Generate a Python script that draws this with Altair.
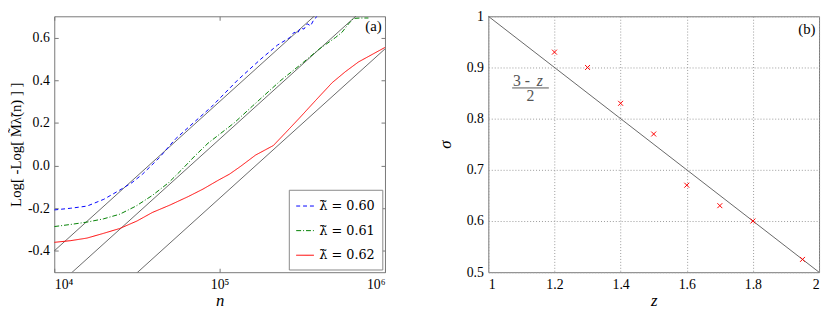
import altair as alt
import pandas as pd

# ---------------- data ----------------
series_names = ["λ̃ = 0.60", "λ̃ = 0.61", "λ̃ = 0.62"]
series_colors = ["#0000ff", "#008000", "#ff0000"]
series_dash = [[4, 3], [5, 2, 1, 2], [1, 0]]

blue_logn = [4.0, 4.1, 4.198, 4.3, 4.396, 4.47, 4.534, 4.633, 4.732, 4.841, 4.95, 5.108,
             5.25, 5.35, 5.424, 5.45, 5.47, 5.49, 5.51, 5.53, 5.55, 5.57, 5.59]
blue_val = [-0.208, -0.2, -0.19, -0.158, -0.115, -0.08, -0.04, 0.035, 0.124, 0.2, 0.275, 0.4,
            0.5, 0.565, 0.6, 0.625, 0.62, 0.645, 0.64, 0.665, 0.655, 0.685, 0.70]

green_logn = [4.0, 4.1, 4.198, 4.297, 4.396, 4.494, 4.593, 4.692, 4.77, 4.85, 4.93, 5.088,
              5.2, 5.371, 5.5, 5.6, 5.70, 5.74, 5.78, 5.81, 5.85, 5.9]
green_val = [-0.286, -0.276, -0.265, -0.25, -0.228, -0.19, -0.14, -0.08, -0.02, 0.045, 0.105, 0.2,
             0.28, 0.4, 0.48, 0.545, 0.6, 0.625, 0.665, 0.69, 0.692, 0.692]

red_logn = [4.0, 4.1, 4.198, 4.297, 4.396, 4.5, 4.593, 4.7, 4.811, 4.9, 4.989, 5.06, 5.128,
            5.217, 5.325, 5.4, 5.484, 5.58, 5.681, 5.76, 5.84, 5.92, 6.0]
red_val = [-0.36, -0.352, -0.34, -0.318, -0.295, -0.26, -0.22, -0.185, -0.145, -0.11, -0.07, -0.04, -0.003,
           0.049, 0.094, 0.155, 0.224, 0.305, 0.389, 0.44, 0.486, 0.52, 0.554]

# straight reference fits (log10 n endpoints and values)
fit_ids = ["f1", "f2", "f3"]
fit_logn_start = [4.0, 4.0, 4.0]
fit_logn_end = [6.0, 6.0, 6.0]
fit_val_start = [-0.40, -0.576, -0.853]
fit_val_end = [1.00, 0.824, 0.547]

# panel (b)
z_vals = [1.2, 1.3, 1.4, 1.5, 1.6, 1.7, 1.8, 1.95]
sigma_vals = [0.93, 0.90, 0.83, 0.77, 0.67, 0.63, 0.60, 0.525]
theory_z = [1.0, 2.0]
theory_sigma = [1.0, 0.5]

left_y_ticks = [-0.4, -0.2, 0.0, 0.2, 0.4, 0.6]
left_x_ticks = [1e4, 1e5, 1e6]
right_x_ticks = [1.0, 1.2, 1.4, 1.6, 1.8, 2.0]
right_y_ticks = [0.5, 0.6, 0.7, 0.8, 0.9, 1.0]

# ---------------- build tables ----------------
rows = []
for name, ls, vs in zip(series_names, [blue_logn, green_logn, red_logn], [blue_val, green_val, red_val]):
    for i, (l, v) in enumerate(zip(ls, vs)):
        rows.append({"series": name, "n": 10 ** l, "val": v, "i": i})
curves = pd.DataFrame(rows)

frows = []
for f, l0, l1, v0, v1 in zip(fit_ids, fit_logn_start, fit_logn_end, fit_val_start, fit_val_end):
    frows.append({"fit": f, "n": 10 ** l0, "val": v0})
    frows.append({"fit": f, "n": 10 ** l1, "val": v1})
fits = pd.DataFrame(frows)

pts = pd.DataFrame({"z": z_vals, "sigma": sigma_vals})
theory = pd.DataFrame({"z": theory_z, "sigma": theory_sigma})

W, H = 336, 260
FONT = "Liberation Serif"
FRAME = "#777777"

xs_left = alt.Scale(type="log", domain=[1e4, 1e6], nice=False)
ys_left = alt.Scale(domain=[-0.5, 0.7], nice=False, zero=False)

x_axis_left = alt.Axis(
    values=left_x_ticks,
    labelExpr="datum.value < 5e4 ? '10⁴' : (datum.value < 5e5 ? '10⁵' : '10⁶')",
    grid=True, gridDash=[4, H - 8, 4], gridColor=FRAME, gridOpacity=1,
    ticks=False, domain=False, labelPadding=6, labelFontSize=14,
    title="n", titleFontStyle="italic", titleFontSize=17, titleFontWeight="normal", titlePadding=1,
)
y_axis_left = alt.Axis(
    values=left_y_ticks,
    labelExpr="datum.value < -0.01 ? '-' + format(-datum.value, '.1f') : format(datum.value, '.1f')",
    grid=True, gridDash=[4, W - 8, 4], gridColor=FRAME, gridOpacity=1,
    ticks=False, domain=False, labelPadding=5,
    title="Log[ -Log[ M̃λ̃(n) ] ]", titleFontSize=15, titleFontWeight="normal", titlePadding=4,
)

legend = alt.Legend(
    orient="none", legendX=W * 239 / 337, legendY=H * 181 / 267, title=None,
    symbolType="stroke", symbolSize=324, symbolStrokeWidth=1,
    labelFont="DejaVu Serif", labelFontSize=13, labelOffset=5,
    strokeColor="#888888", fillColor="white", padding=7, rowPadding=8,
)

curve_layer = alt.Chart(curves).mark_line(clip=True, strokeWidth=1).encode(
    x=alt.X("n:Q", scale=xs_left, axis=x_axis_left),
    y=alt.Y("val:Q", scale=ys_left, axis=y_axis_left),
    color=alt.Color("series:N", scale=alt.Scale(domain=series_names, range=series_colors), legend=legend),
    strokeDash=alt.StrokeDash("series:N", scale=alt.Scale(domain=series_names, range=series_dash), legend=legend),
    order="i:Q",
)
fit_layer = alt.Chart(fits).mark_line(clip=True, strokeWidth=0.8, color="#444444").encode(
    x="n:Q", y="val:Q", detail="fit:N"
)
label_a = alt.Chart(pd.DataFrame({"n": [10 ** 5.93], "val": [0.655], "t": ["(a)"]})).mark_text(
    font=FONT, fontSize=15, color="black"
).encode(x="n:Q", y="val:Q", text="t:N")

left = alt.layer(fit_layer, curve_layer, label_a).properties(width=W, height=H)

# ---------------- right panel ----------------
xs_right = alt.Scale(domain=[1, 2], nice=False, zero=False)
ys_right = alt.Scale(domain=[0.5, 1.0], nice=False, zero=False)

x_axis_right = alt.Axis(
    values=right_x_ticks, format="~g", grid=True, gridDash=[1, 2], gridColor="#999999", gridOpacity=1,
    ticks=False, domain=False, labelPadding=6,
    title="z", titleFontStyle="italic", titleFontSize=17, titleFontWeight="normal", titlePadding=1,
)
y_axis_right = alt.Axis(
    values=right_y_ticks, format="~g", grid=True, gridDash=[1, 2], gridColor="#999999", gridOpacity=1,
    ticks=False, domain=False, labelPadding=5,
    title="σ", titleFontStyle="italic", titleFontSize=17, titleFontWeight="normal", titlePadding=12,
)

theory_layer = alt.Chart(theory).mark_line(color="#666666", strokeWidth=1).encode(
    x=alt.X("z:Q", scale=xs_right, axis=x_axis_right),
    y=alt.Y("sigma:Q", scale=ys_right, axis=y_axis_right),
)
pts_layer = alt.Chart(pts).mark_point(
    shape="M-1,-1L1,1M-1,1L1,-1", size=25, filled=False, color="#ff0000", strokeWidth=1, opacity=1
).encode(x="z:Q", y="sigma:Q")

ann = pd.DataFrame({
    "z": [1.10, 1.156, 1.127],
    "sigma": [0.874, 0.874, 0.845],
    "t": ["3 -", "z", "2"],
    "style": ["normal", "italic", "normal"],
})
ann_normal = alt.Chart(ann[ann["style"] == "normal"]).mark_text(
    font=FONT, fontSize=16, color="#555555"
).encode(x="z:Q", y="sigma:Q", text="t:N")
ann_italic = alt.Chart(ann[ann["style"] == "italic"]).mark_text(
    font=FONT, fontSize=16, color="#555555", fontStyle="italic"
).encode(x="z:Q", y="sigma:Q", text="t:N")
bar = alt.Chart(pd.DataFrame({"z": [1.072], "z2": [1.183], "sigma": [0.860]})).mark_rule(
    color="#555555", strokeWidth=1
).encode(x="z:Q", x2="z2:Q", y="sigma:Q")
label_b = alt.Chart(pd.DataFrame({"z": [1.963], "sigma": [0.976], "t": ["(b)"]})).mark_text(
    font=FONT, fontSize=15, color="black"
).encode(x="z:Q", y="sigma:Q", text="t:N")

right = alt.layer(theory_layer, pts_layer, bar, ann_normal, ann_italic, label_b).properties(width=W, height=H)

chart = alt.hconcat(left, right, spacing=51).properties(
    padding={"left": 0, "top": -2, "right": 0, "bottom": 0},
    background="white",
).configure_view(
    stroke=FRAME, strokeWidth=1
).configure_axis(
    labelFont=FONT, titleFont=FONT, labelFontSize=14, labelColor="black", titleColor="black"
)

chart.save("out.html", embed_options={"renderer": "svg", "actions": False})
